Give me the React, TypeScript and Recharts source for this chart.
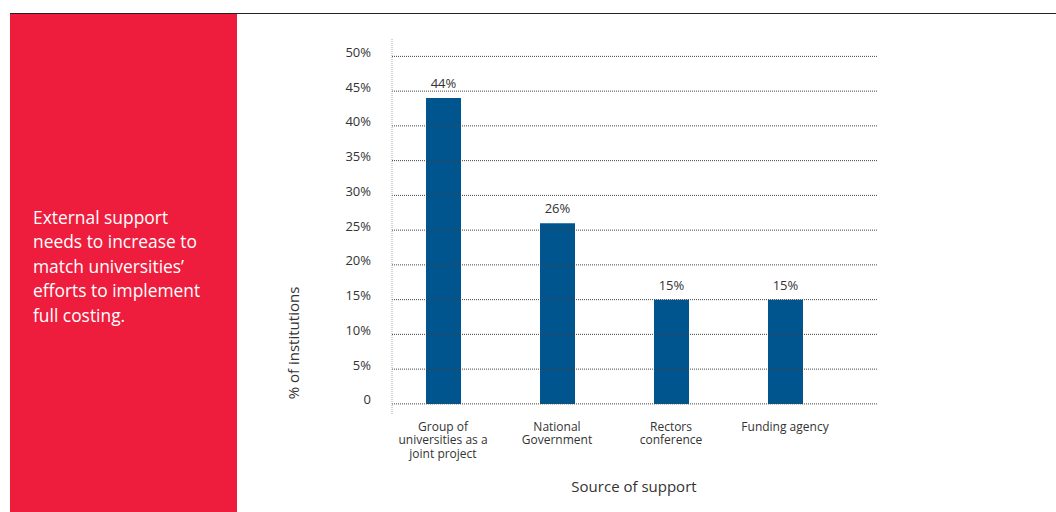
import { BarChart, Bar, XAxis, YAxis, ReferenceLine, LabelList } from "recharts";

const categories = [
  "Group of\nuniversities as a\njoint project",
  "National\nGovernment",
  "Rectors\nconference",
  "Funding agency",
];
const shares = [44, 26, 15, 15];
const yTicks = [0, 5, 10, 15, 20, 25, 30, 35, 40, 45, 50];

const data = categories.map((name, i) => ({ name, value: shares[i] }));

const FONT = "'Open Sans', 'Noto Sans', sans-serif";
const TEXT = "#333";

function XTick(props: any) {
  const { x, y, payload } = props;
  const lines = String(payload.value).split("\n");
  return (
    <g>
      {lines.map((l, i) => (
        <text
          key={i}
          x={x}
          y={y + 16 + i * 13.3}
          textAnchor="middle"
          fill={TEXT}
          fontSize={12}
          fontFamily={FONT}
        >
          {l}
        </text>
      ))}
    </g>
  );
}

function YTick(props: any) {
  const { x, y, payload } = props;
  const v = payload.value;
  return (
    <text x={x} y={y - 4} dy="0.35em" textAnchor="end" fill={TEXT} fontSize={13} fontFamily={FONT}>
      {v === 0 ? "0" : `${v}%`}
    </text>
  );
}

export default function App() {
  return (
    <div style={{ position: "fixed", left: 0, top: 0, width: 1056, height: 512, background: "#fff", overflow: "hidden" }}>
      <div style={{ position: "absolute", left: 10, top: 13, width: 1046, height: 1, background: "#222" }} />
      <div style={{ position: "absolute", left: 10, top: 14, width: 227, height: 498, background: "#EE1C3D" }} />
      <div
        style={{
          position: "absolute",
          left: 33,
          top: 205,
          width: 204,
          color: "#fff",
          fontFamily: FONT,
          fontSize: 17.4,
          lineHeight: "24.4px",
        }}
      >
        External support
        <br />
        needs to increase to
        <br />
        match universities’
        <br />
        efforts to implement
        <br />
        full costing.
      </div>
      <div style={{ position: "absolute", left: 0, top: 0 }}>
        <BarChart
          width={1056}
          height={512}
          data={data}
          margin={{ top: 39, right: 179, bottom: 67, left: 332 }}
        >
          <XAxis
            dataKey="name"
            axisLine={false}
            tickLine={false}
            height={30}
            interval={0}
            padding={{ left: -6, right: 35 }}
            tick={<XTick />}
            tickSize={0}
            tickMargin={0}
          />
          <YAxis
            type="number"
            domain={[-1.6, 52.5]}
            ticks={yTicks}
            width={60}
            axisLine={{ stroke: "#aaa", strokeDasharray: "1 1" }}
            tickLine={false}
            tickSize={0}
            tickMargin={21}
            tick={<YTick />}
            allowDataOverflow
          />
          {yTicks.map((t) => (
            <ReferenceLine key={t} y={t} stroke="#444" strokeDasharray="1 1" />
          ))}
          <Bar dataKey="value" fill="#00558F" barSize={35} isAnimationActive={false}>
            <LabelList
              dataKey="value"
              position="top"
              offset={10}
              formatter={(v: any) => `${v}%`}
              fill={TEXT}
              fontSize={13}
              fontFamily={FONT}
            />
          </Bar>
        </BarChart>
      </div>
      <div
        style={{
          position: "absolute",
          left: 293,
          top: 343,
          transform: "translate(-50%, -50%) rotate(-90deg)",
          whiteSpace: "nowrap",
          fontFamily: FONT,
          fontSize: 15,
          color: TEXT,
        }}
      >
        % of institutions
      </div>
      <div
        style={{
          position: "absolute",
          left: 634,
          top: 486,
          transform: "translate(-50%, -50%)",
          whiteSpace: "nowrap",
          fontFamily: FONT,
          fontSize: 15,
          color: TEXT,
        }}
      >
        Source of support
      </div>
    </div>
  );
}
